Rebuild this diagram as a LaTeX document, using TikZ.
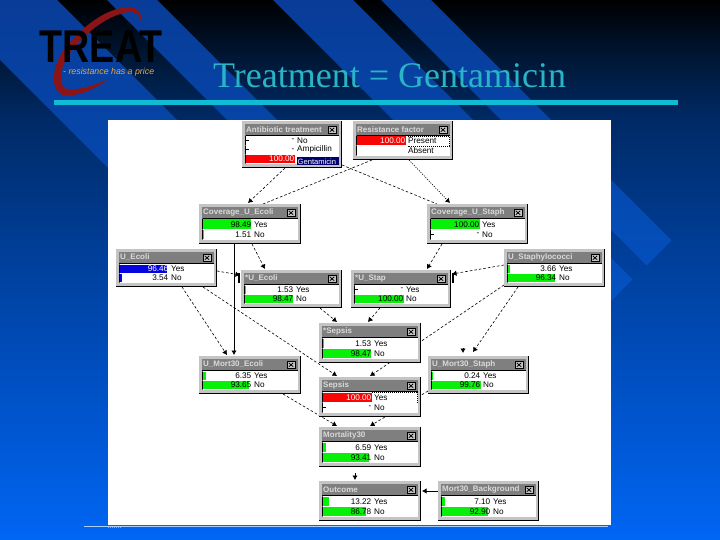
\documentclass[tikz,border=0pt]{standalone}
\usepackage{fontspec}
\setmainfont{Liberation Sans}
\newfontfamily\serifttl{Liberation Serif}
\usetikzlibrary{arrows.meta,calc}
\pgfdeclarelayer{under}
\pgfsetlayers{under,main}
\definecolor{bgA}{HTML}{000000}
\definecolor{bgB}{HTML}{001838}
\definecolor{bgC}{HTML}{002A66}
\definecolor{bgD}{HTML}{003E98}
\definecolor{bgE}{HTML}{0052C8}
\definecolor{bgF}{HTML}{0066F4}
\definecolor{stA}{HTML}{083C98}
\definecolor{stB}{HTML}{0644A6}
\definecolor{stC}{HTML}{0450BE}
\definecolor{stD}{HTML}{0A70FF}
\definecolor{frame}{HTML}{C4C4C4}
\definecolor{ttl}{HTML}{7F7F7F}
\definecolor{ttltxt}{HTML}{DADADA}
\definecolor{bargreen}{HTML}{08F008}
\definecolor{barred}{HTML}{FA0505}
\definecolor{barblue}{HTML}{0505E0}
\definecolor{navyhl}{HTML}{000070}
\definecolor{teal}{HTML}{2AB4C8}
\definecolor{rule}{HTML}{10BCD4}
\definecolor{swoosh}{HTML}{8A1418}
\definecolor{tagc}{HTML}{E8A848}
\definecolor{baseln}{HTML}{A8D0F8}
\pgfdeclareverticalshading{bgshade}{100bp}{color(0bp)=(bgF); color(25bp)=(bgF); color(38bp)=(bgE); color(51.9bp)=(bgD); color(63.9bp)=(bgC); color(69.4bp)=(bgB); color(75bp)=(bgA); color(100bp)=(bgA)}
\pgfdeclareverticalshading{stshade}{100bp}{color(0bp)=(stD); color(25bp)=(stD); color(49bp)=(stC); color(64bp)=(stB); color(75bp)=(stA); color(100bp)=(stA)}
\tikzset{
  winbox/.style={fill=frame,draw=none,inner sep=0pt,outer sep=0pt,anchor=north west},
  wintitle/.style={anchor=west,inner sep=0pt,text=ttltxt,font=\fontsize{8}{9}\selectfont\bfseries},
  rowtext/.style={inner sep=0pt,font=\fontsize{8.2}{9}\selectfont},
  conn/.style={draw=black,line width=0.6pt,dash pattern=on 2.6pt off 2pt},
  dots/.style={draw=black,line width=0.7pt,dash pattern=on 1pt off 1.4pt},
  solidc/.style={draw=black,line width=0.8pt},
  tip/.style={-{Latex[length=4.5pt,width=5.5pt]}},
}
% name x1 y1 x2 y2 title rows(colour/percent/value/label/valuecolour)
\newcommand{\bnwin}[7]{%
  \node[winbox,minimum width={(#4-#2)*1pt},minimum height={(#5-#3)*1pt}] (#1) at (#2,#3) {};
  \draw[black,line width=1.4pt] (#2,#5-0.7) -- (#4-0.7,#5-0.7) -- (#4-0.7,#3);
  \fill[ttl] (#2+3,#3+3) rectangle (#4-3,#3+14);
  \node[wintitle] (#1t) at (#2+4,#3+8.5) {#6};
  \fill[frame] (#4-14,#3+5) rectangle (#4-6,#3+12.5);
  \draw[black,line width=0.6pt] (#4-14,#3+5) rectangle (#4-6,#3+12.5);
  \draw[black,line width=0.8pt] (#4-12.2,#3+6.8) -- (#4-7.8,#3+10.8) (#4-12.2,#3+10.8) -- (#4-7.8,#3+6.8);
  \fill[white] (#2+3,#3+14) rectangle (#4-3.5,#5-4);
  \draw[black,line width=0.9pt] (#2+3,#3+14.5) -- (#4-3,#3+14.5);
  \draw[black!60,line width=0.5pt] (#2+3.3,#3+14.5) -- (#2+3.3,#5-4);
  \pgfmathsetmacro{\nrows}{int(#7)}
  \pgfmathsetmacro{\rowh}{(#5-4-#3-15.5)/\nrows}
  \foreach \n/\bc/\pc/\val/\lab/\vc in \rowlist {%
    \pgfmathsetmacro{\rt}{#3+15.5+\n*\rowh}
    \pgfmathsetmacro{\rb}{\rt+\rowh-0.8}
    \pgfmathsetmacro{\rm}{(\rt+\rb)/2}
    \pgfmathsetmacro{\bw}{49*\pc/100}
    \ifdim\pc pt>0pt
      \fill[\bc] (#2+4,\rt) rectangle (#2+4+\bw,\rb);
      \draw[black,line width=0.5pt] (#2+3.6,\rt) -- (#2+3.6,\rb);
    \else
      \draw[black,line width=0.7pt] (#2+3.6,\rt) -- (#2+3.6,\rb) (#2+3.6,\rm) -- (#2+7,\rm);
    \fi
    \node[rowtext,anchor=east,text=\vc] (#1v\n) at (#2+52.5,\rm) {\val};
    \node[rowtext,anchor=west] (#1l\n) at (#2+55,\rm) {\lab};
  }%
}
\begin{document}
\begin{tikzpicture}[x=1pt,y=-1pt]
\useasboundingbox (0,0) rectangle (720,540);
\begin{pgfonlayer}{under}
  \shade[shading=bgshade] (0,0) rectangle (720,540);
  \begin{scope}
    \clip (0,0) -- (57,0) -- (484.5,427.5) -- (426,486) -- (0,60) -- cycle
          (107,0) -- (157,0) -- (534.5,377.5) -- (509.5,402.5) -- cycle
          (273,0) -- (353,0) -- (632.5,279.5) -- (592.5,319.5) -- cycle
          (381,0) -- (431,0) -- (671.5,240.5) -- (646.5,265.5) -- cycle;
    \shade[shading=stshade] (0,0) rectangle (720,540);
  \end{scope}
  % logo
  \fill[swoosh] (141,22) .. controls (142,11) and (136,6) .. (127,7)
     .. controls (105,9) and (82,27) .. (66,47)
     .. controls (52,64) and (49,90) .. (63,95)
     .. controls (78,97) and (96,89) .. (108,79)
     .. controls (93,86) and (76,91) .. (67,89)
     .. controls (58,86) and (59,70) .. (68,56)
     .. controls (80,37) and (105,16) .. (128,12)
     .. controls (135,11) and (140,15) .. (141,22) -- cycle;
  % rule and panel
  \fill[rule] (54,100) rectangle (678,105);
  \draw[baseln,line width=0.8pt] (84,526.5) -- (608,526.5);
  \fill[white] (108,120) rectangle (611,525);
  \draw[black!35,line width=1pt,dash pattern=on 1pt off 1pt] (108,527.5) -- (122,527.5);
\end{pgfonlayer}
\node[anchor=base west,inner sep=0pt,text=black,font=\fontsize{46}{46}\selectfont\bfseries,xscale=0.82] (logo) at (39.5,63) {TREAT};
\node[anchor=base west,inner sep=0pt,text=tagc,font=\fontsize{8.8}{9}\selectfont\itshape] (tag) at (63,74.5) {- resistance has a price};
\node[anchor=base west,inner sep=0pt,text=teal,font=\fontsize{36}{36}\serifttl] (title) at (213,88) {Treatment = Gentamicin};

\def\rowlist{0/bargreen/0/-/No/black,1/bargreen/0/-/Ampicillin/black,2/barred/100/100.00//white}
\bnwin{ant}{242}{121}{342}{168}{Antibiotic treatment}{3}
\fill[navyhl] (296.5,157.5) rectangle (339,165.5);
\node[inner sep=0pt,anchor=west,text=white,font=\fontsize{7.6}{8}\selectfont] (gent) at (297.5,161.5) {Gentamicin};

\def\rowlist{0/barred/100/100.00/Present/white,1/bargreen/0/{}/Absent/black}
\bnwin{res}{353}{121}{453}{160}{Resistance factor}{2}
\draw[black,line width=0.5pt,dash pattern=on 1pt off 1pt] (407.5,136.5) -- (449,136.5) -- (449,146) -- (407.5,146);
\fill[white] (357,150) rectangle (361,151.5);

\def\rowlist{0/bargreen/98.49/98.49/Yes/black,1/bargreen/1.51/1.51/No/black}
\bnwin{cue}{199}{204}{301}{244}{Coverage\_U\_Ecoli}{2}
\def\rowlist{0/bargreen/100/100.00/Yes/black,1/bargreen/0/-/No/black}
\bnwin{cus}{427}{204}{528}{244}{Coverage\_U\_Staph}{2}
\def\rowlist{0/barblue/96.46/96.46/Yes/white,1/barblue/3.54/3.54/No/black}
\bnwin{ue}{116}{249}{217}{287}{U\_Ecoli}{2}
\def\rowlist{0/bargreen/1.53/1.53/Yes/black,1/bargreen/98.47/98.47/No/black}
\bnwin{sue}{241}{270}{342}{308}{*U\_Ecoli}{2}
\def\rowlist{0/bargreen/0/-/Yes/black,1/bargreen/100/100.00/No/black}
\bnwin{sus}{351}{270}{451}{308}{*U\_Stap}{2}
\def\rowlist{0/bargreen/3.66/3.66/Yes/black,1/bargreen/96.34/96.34/No/black}
\bnwin{us}{504}{249}{605}{287}{U\_Staphylococci}{2}
\def\rowlist{0/bargreen/1.53/1.53/Yes/black,1/bargreen/98.47/98.47/No/black}
\bnwin{sse}{319}{323}{421}{363}{*Sepsis}{2}
\def\rowlist{0/barred/100/100.00/Yes/white,1/bargreen/0/-/No/black}
\bnwin{sep}{319}{377}{421}{417}{Sepsis}{2}
\draw[black,line width=0.5pt,dash pattern=on 1pt off 1pt] (372,392.5) -- (417,392.5) -- (417,402);
\def\rowlist{0/bargreen/6.59/6.59/Yes/black,1/bargreen/93.41/93.41/No/black}
\bnwin{mor}{319}{427}{421}{467}{Mortality30}{2}
\def\rowlist{0/bargreen/13.22/13.22/Yes/black,1/bargreen/86.78/86.78/No/black}
\bnwin{out}{319}{481}{421}{521}{Outcome}{2}
\def\rowlist{0/bargreen/7.10/7.10/Yes/black,1/bargreen/92.90/92.90/No/black}
\bnwin{bgd}{438}{481}{539}{521}{Mort30\_Background}{2}
\def\rowlist{0/bargreen/6.35/6.35/Yes/black,1/bargreen/93.65/93.65/No/black}
\bnwin{ume}{199}{356}{301}{394}{U\_Mort30\_Ecoli}{2}
\def\rowlist{0/bargreen/0.24/0.24/Yes/black,1/bargreen/99.76/99.76/No/black}
\bnwin{ums}{428}{356}{529}{394}{U\_Mort30\_Staph}{2}

\begin{pgfonlayer}{under}
  \draw[conn,tip] ([xshift=43pt]ant.south west) -- ([xshift=49pt,yshift=1pt]cue.north west);
  \draw[conn] ([yshift=3pt]ant.south east) -- ([xshift=10pt]cus.north west);
  \draw[conn] ([xshift=19pt]res.south west) -- ([xshift=64pt]cue.north west);
  \draw[dots,tip] ([xshift=56pt]res.south west) -- ([xshift=23pt,yshift=1pt]cus.north west);
  \draw[conn,tip] ([xshift=53pt]cue.south west) -- ([xshift=24pt,yshift=1pt]sue.north west);
  \draw[solidc,tip] ([xshift=35pt]cue.south west) -- ([xshift=35pt,yshift=1pt]ume.north west);
  \draw[conn,tip] ([yshift=-22pt]ue.north east) -- ([yshift=-5pt,xshift=-1pt]sue.north west);
  \draw[conn,tip] ([xshift=66pt]ue.south west) -- ([xshift=28pt,yshift=1pt]ume.north west);
  \draw[conn,tip] ([xshift=87pt]ue.south west) -- ([xshift=18pt,yshift=1pt]sep.north west);
  \draw[conn,tip] ([xshift=79pt]sue.south west) -- ([xshift=18pt,yshift=1pt]sse.north west);
  \draw[conn,tip] ([xshift=29pt]sus.south west) -- ([xshift=49pt,yshift=1pt]sse.north west);
  \draw[conn,tip] ([xshift=15pt]cus.south west) -- ([xshift=76pt,yshift=1pt]sus.north west);
  \draw[conn,tip] ([yshift=-16pt]us.north west) -- ([yshift=-4pt,xshift=1pt]sus.north east);
  \draw[conn,tip] ([yshift=2pt]us.south west) -- ([xshift=51pt,yshift=1pt]sep.north west);
  \draw[conn,tip] ([xshift=14pt]us.south west) -- ([xshift=45pt,yshift=4pt]ums.north west);
  \draw[solidc,tip] ([xshift=35pt,yshift=8pt]ums.north west) -- ([xshift=35pt,yshift=3pt]ums.north west);
  \draw[conn,tip] ([xshift=84pt]ume.south west) -- ([xshift=18pt,yshift=1pt]mor.north west);
  \draw[conn,tip] ([yshift=3pt]ums.south west) -- ([xshift=51pt,yshift=1pt]mor.north west);
  \draw[solidc,tip] ([xshift=36pt,yshift=8pt]out.north west) -- ([xshift=36pt,yshift=1pt]out.north west);
  \draw[solidc,tip] ([yshift=-10pt]bgd.north west) -- ([yshift=-10pt,xshift=1pt]out.north east);
  \draw[black,line width=2.2pt] ([xshift=-2pt,yshift=-3pt]sue.north west) -- ([xshift=-2pt,yshift=-13pt]sue.north west);
  \draw[black,line width=2.2pt] ([xshift=2pt,yshift=-3pt]sus.north east) -- ([xshift=2pt,yshift=-13pt]sus.north east);
\end{pgfonlayer}
\end{tikzpicture}
\end{document}
